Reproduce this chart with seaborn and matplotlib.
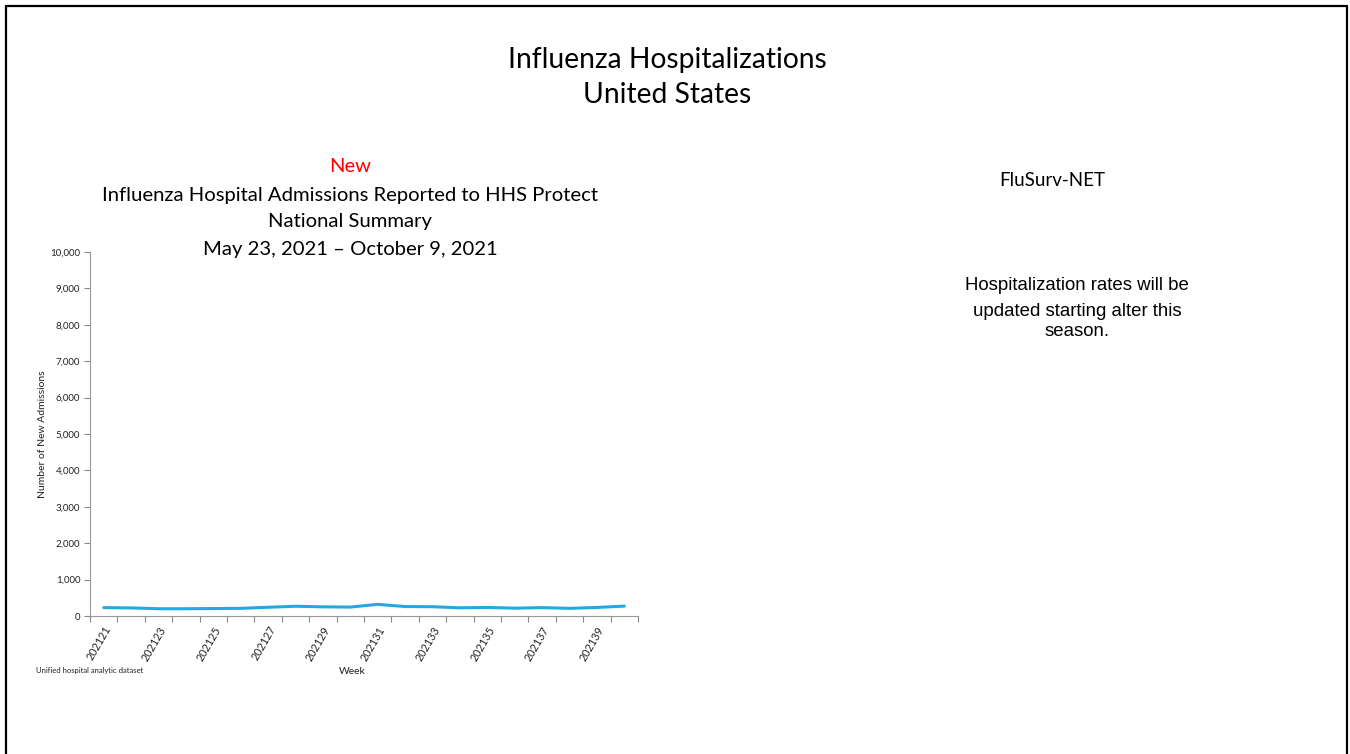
import matplotlib
matplotlib.use("Agg")
import matplotlib.pyplot as plt
import seaborn as sns
import numpy as np
import pandas as pd
from matplotlib.ticker import FuncFormatter, FixedLocator

weeks = ["202121", "202122", "202123", "202124", "202125", "202126", "202127",
         "202128", "202129", "202130", "202131", "202132", "202133", "202134",
         "202135", "202136", "202137", "202138", "202139", "202140"]
admissions = [230, 222, 200, 200, 205, 210, 240, 268, 252, 245, 320, 260, 255,
              225, 235, 215, 230, 210, 235, 272]
yticks = [0, 1000, 2000, 3000, 4000, 5000, 6000, 7000, 8000, 9000, 10000]
note_lines = ["Hospitalization rates will be", "updated starting alter this", "season."]

sns.set_theme(style="white")
plt.rcParams['font.family'] = ['Lato', 'DejaVu Sans']

W, H = 1350, 754
fig = plt.figure(figsize=(W / 100, H / 100), dpi=100)
fig.patch.set_facecolor("white")

ax = fig.add_axes([90 / W, 1 - 616 / H, (638 - 90) / W, (616 - 252) / H])
df = pd.DataFrame({"idx": np.arange(len(weeks)), "val": admissions})
sns.lineplot(data=df, x="idx", y="val", ax=ax, color="#22A9E1", linewidth=2.2)

ax.set_xlim(-0.5, len(weeks) - 0.5)
ax.set_ylim(0, 10000)
ax.set_yticks(yticks)
ax.yaxis.set_major_formatter(FuncFormatter(lambda v, p: f"{int(v):,}"))
ax.tick_params(axis="y", which="major", left=True, length=4, width=0.8,
               color="#888888", labelsize=7, pad=3, labelcolor="#222222")

major_pos = list(range(0, len(weeks), 2))
ax.set_xticks(major_pos)
ax.set_xticklabels([weeks[i] for i in major_pos], rotation=60, ha="right",
                   rotation_mode="anchor", fontsize=7.8, color="#222222")
ax.xaxis.set_minor_locator(FixedLocator(np.arange(-0.5, len(weeks), 1.0)))
ax.tick_params(axis="x", which="major", bottom=False, length=0, pad=6)
ax.tick_params(axis="x", which="minor", bottom=True, length=4, width=0.8,
               color="#888888")

for s in ["top", "right"]:
    ax.spines[s].set_visible(False)
for s in ["left", "bottom"]:
    ax.spines[s].set_color("#999999")
    ax.spines[s].set_linewidth(0.8)

ax.set_xlabel("")
ax.set_ylabel("Number of New Admissions", fontsize=7.5, color="#222222", labelpad=2)
ax.grid(False)

fig.text(352 / W, 1 - 671 / H, "Week", ha="center", va="center", fontsize=7.5,
         color="#222222")
fig.text(36 / W, 1 - 670 / H, "Unified hospital analytic dataset", ha="left",
         va="center", fontsize=5.5, color="#222222")

# Main titles
fig.text(667 / W, 1 - 60 / H, "Influenza Hospitalizations", ha="center",
         va="center", fontsize=20.3, color="black")
fig.text(667 / W, 1 - 95 / H, "United States", ha="center", va="center",
         fontsize=20.3, color="black")

# Chart title
fig.text(350 / W, 1 - 167 / H, "New", ha="center", va="center", fontsize=14.5,
         color="#FF0000")
fig.text(350 / W, 1 - 195 / H, "Influenza Hospital Admissions Reported to HHS Protect",
         ha="center", va="center", fontsize=14.6, color="black")
fig.text(350 / W, 1 - 222 / H, "National Summary", ha="center", va="center",
         fontsize=14.6, color="black")
fig.text(350 / W, 1 - 249 / H, "May 23, 2021 \u2013 October 9, 2021", ha="center",
         va="center", fontsize=14.6, color="black")

# Right side
fig.text(1052 / W, 1 - 180 / H, "FluSurv-NET", ha="center", va="center",
         fontsize=13.5, color="black")
for line, yy in zip(note_lines, [286, 311, 331]):
    fig.text(1077 / W, 1 - yy / H, line, ha="center", va="center",
             fontsize=13.4, color="black", family=["Liberation Sans", "DejaVu Sans"])

# Frame border (top, left, right)
lw = 1.6
fig.add_artist(plt.Line2D([6.3 / W, 6.3 / W], [0, 1 - 6.3 / H], transform=fig.transFigure,
                          color="black", linewidth=lw))
fig.add_artist(plt.Line2D([1347 / W, 1347 / W], [0, 1 - 6.3 / H], transform=fig.transFigure,
                          color="black", linewidth=lw))
fig.add_artist(plt.Line2D([6.3 / W, 1347 / W], [1 - 6.3 / H, 1 - 6.3 / H],
                          transform=fig.transFigure, color="black", linewidth=lw))

fig.savefig("out.png", dpi=100, facecolor="white")
